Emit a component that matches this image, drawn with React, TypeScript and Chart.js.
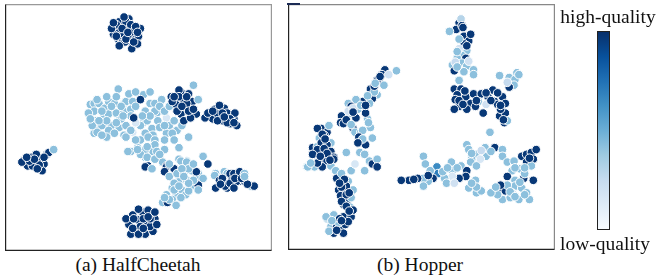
import React, { useEffect, useRef } from "react";
import { Chart, registerables } from "chart.js";

Chart.register(...registerables);

type P = [number, number, number]; // [tsne-x, tsne-y, quality 0..1]

const D = 0.97; // dark / high quality
const L = 0.42; // light blue
const V = 0.16; // very light

// ---------------- HalfCheetah ----------------
const hcTopCluster: P[] = [
  [108, 225, D], [113, 222, D], [117, 228, D], [113, 233, D], [123, 225, D], [128, 222, D],
  [122, 217, D], [130, 215, D], [127, 208, D], [112, 215, D], [133, 218, D], [107, 220, D],
  [118, 220, D], [115, 210, D], [123, 236, D], [135, 226, D], [110, 230, D], [120, 233, D],
  [126, 205, D], [119, 212, D], [105, 226, D], [132, 210, D], [110, 218, D], [116, 226, D],
  [125, 230, D], [130, 228, D], [120, 215, D], [128, 212, D], [113, 208, D], [122, 222, D],
  [132, 222, D], [107, 232, D], [118, 238, D],
];
const hcBigLight: P[] = [
  [112, 163, L], [83, 147, L], [87, 148, L], [92, 148, L], [98, 143, L], [102, 150, L],
  [108, 148, L], [118, 148, L], [120, 150, L], [127, 150, L], [138, 157, L], [145, 148, L],
  [150, 148, L], [157, 152, L], [87, 140, L], [97, 137, L], [102, 137, L], [110, 138, L],
  [118, 140, L], [125, 142, L], [88, 130, L], [92, 123, L], [98, 127, L], [105, 125, L],
  [113, 123, L], [120, 125, L], [118, 115, L], [102, 120, L], [87, 117, L], [108, 117, L],
  [127, 118, V], [137, 127, L], [142, 130, L], [152, 138, L], [153, 130, L], [162, 133, V],
  [147, 122, L], [155, 123, L], [165, 125, L], [162, 117, L], [148, 115, L], [140, 117, L],
  [135, 110, L], [173, 120, L], [185, 113, L], [132, 102, L], [143, 102, L], [125, 98, L],
  [140, 92, L], [148, 98, L], [155, 93, L], [158, 87, L], [175, 90, L], [183, 88, L],
  [150, 140, L], [95, 125, L], [90, 118, L], [120, 113, L], [143, 113, L], [168, 117, L],
  [112, 130, L], [130, 145, L], [140, 140, L], [81, 138, L], [123, 158, L], [155, 145, L],
  [135, 125, L], [115, 132, L], [100, 113, L], [95, 140, L], [105, 145, L], [115, 145, L],
  [125, 135, L], [100, 130, L], [110, 128, L], [130, 128, V], [145, 135, L], [160, 140, L],
  [150, 110, L], [160, 110, L], [170, 110, L], [130, 110, L], [125, 120, L], [140, 100, L],
  [135, 95, L], [160, 100, L], [150, 105, L], [110, 155, L], [100, 155, L], [90, 152, L],
  [130, 160, L], [145, 160, L], [165, 145, L], [170, 130, L], [178, 125, L], [85, 125, L],
  [95, 115, L], [160, 125, L], [83, 132, L], [92, 130, L], [117, 135, L], [137, 135, L],
  [135, 152, D], [128, 133, D], [143, 83, D], [162, 83, D],
];
const hcRightUpper: P[] = [
  [167, 155, D], [177, 160, D], [185, 158, D], [180, 152, D], [172, 147, D], [183, 143, D],
  [177, 137, D], [193, 137, D], [180, 130, D], [187, 133, D], [173, 140, D], [168, 150, D],
  [189, 150, D], [175, 162, D], [175, 155, D], [183, 148, D], [178, 145, D], [185, 140, D],
  [170, 155, D], [183, 155, D], [190, 142, D], [190, 167, L], [195, 152, L],
];
const hcRight: P[] = [
  [212, 142, D], [222, 143, D], [228, 137, D], [210, 132, D], [220, 130, D], [232, 132, D],
  [202, 133, D], [235, 125, D], [225, 138, D], [215, 137, D], [233, 138, D], [228, 127, D],
  [217, 146, D], [205, 138, D], [215, 130, D], [220, 138, D], [228, 132, D], [210, 140, D],
  [225, 128, D], [232, 128, D], [222, 134, D],
];
const hcLeft: P[] = [
  [15, 90, D], [22, 92, D], [27, 88, D], [32, 90, D], [38, 95, D], [35, 85, D],
  [18, 83, D], [12, 87, D], [33, 78, D], [23, 83, D], [40, 97, D], [27, 95, D],
  [20, 88, D], [30, 84, D], [25, 90, D], [35, 92, D], [17, 92, D], [28, 80, D],
  [45, 100, L],
];
const hcLowerMid: P[] = [
  [122, 98, L], [132, 100, L], [142, 103, L], [152, 98, L], [142, 92, L], [150, 90, L],
  [140, 82, D], [147, 80, L], [162, 82, D], [170, 80, D], [160, 77, D], [165, 85, L],
  [177, 88, L], [183, 87, L], [188, 78, L], [195, 75, L], [200, 93, L], [205, 85, D],
  [165, 72, L], [175, 67, L], [183, 68, L], [192, 70, L], [200, 70, L], [168, 60, L],
  [178, 58, L], [188, 62, L], [195, 63, D], [162, 53, L], [172, 52, L], [182, 53, L],
  [158, 45, L], [168, 48, L], [177, 50, L], [163, 45, D], [193, 77, D], [175, 102, L],
  [173, 75, L], [180, 75, L], [185, 57, L], [170, 65, L], [190, 68, L], [185, 80, L],
  [190, 85, L], [178, 80, L], [170, 58, L], [175, 62, L], [185, 65, L], [195, 58, L],
  [165, 48, L], [172, 42, L], [160, 50, L], [180, 72, L], [155, 95, L],
];
const hcRightLower: P[] = [
  [213, 75, L], [222, 77, L], [225, 75, L], [228, 75, D], [232, 75, D], [238, 77, D],
  [243, 75, L], [230, 68, D], [237, 67, D], [243, 67, D], [250, 62, L], [253, 62, D],
  [225, 60, D], [213, 60, D], [223, 62, D], [235, 67, D], [212, 73, L], [217, 68, D],
  [220, 70, D], [228, 65, D], [233, 70, D], [240, 70, D], [246, 64, D], [232, 60, D],
  [218, 64, D], [243, 72, L],
];
const hcBottom: P[] = [
  [127, 32, D], [137, 35, D], [147, 32, D], [132, 27, D], [142, 22, D], [150, 28, D],
  [123, 22, D], [130, 17, D], [140, 12, D], [148, 15, D], [135, 20, D], [143, 37, D],
  [145, 20, D], [133, 38, D], [152, 22, D], [125, 12, D], [120, 28, D], [128, 28, D],
  [138, 28, D], [145, 28, D], [133, 12, D], [143, 30, D], [138, 18, D], [127, 18, D],
  [150, 35, D],
];

// ---------------- Hopper ----------------
const hpLeftStrand: P[] = [
  [95, 182, D], [107, 181, L], [92, 177, D], [89, 172, D], [94, 166, L], [87, 171, D],
  [80, 162, D], [87, 156, L], [82, 152, D], [72, 149, D], [79, 147, L], [65, 151, L],
  [57, 147, L], [60, 144, D], [67, 141, L], [59, 137, L], [50, 134, D], [65, 132, D],
  [77, 131, L], [49, 127, D], [54, 127, L], [62, 121, D], [80, 122, L], [64, 117, L],
  [70, 117, L], [82, 111, L], [69, 107, D], [75, 104, D], [52, 126, D], [72, 119, L],
  [57, 139, 0.2], [62, 142, 0.2], [75, 137, D], [84, 159, L], [99, 177, 0.2],
  [90, 175, D], [84, 165, D], [77, 155, L], [70, 145, L], [62, 138, D], [55, 130, D],
  [60, 125, L], [68, 112, D], [72, 110, L], [78, 127, L], [85, 168, L], [75, 145, D],
];
const hpLeftCluster: P[] = [
  [29, 121, D], [35, 117, D], [25, 121, D], [27, 111, L], [34, 107, D], [39, 106, L],
  [20, 101, D], [25, 102, L], [29, 106, D], [35, 104, D], [39, 97, D], [29, 94, L],
  [22, 94, L], [42, 91, D], [27, 87, D], [35, 87, D], [14, 81, L], [22, 81, L],
  [30, 81, D], [39, 82, L], [44, 77, L], [25, 99, D], [42, 89, D], [15, 81, L],
  [32, 114, D], [20, 94, D], [37, 124, L], [30, 115, D], [32, 100, D], [25, 85, D],
  [18, 85, L], [35, 95, D], [28, 92, D], [38, 88, D], [33, 110, D],
];
const hpLeftLower: P[] = [
  [55, 96, L], [69, 96, L], [67, 106, D], [74, 94, L], [79, 87, L], [82, 84, D],
  [87, 89, L], [74, 77, L], [60, 77, L], [64, 84, V], [87, 81, D], [45, 69, D],
  [52, 64, D], [57, 66, L], [47, 57, D], [54, 57, D], [62, 57, L], [49, 51, D],
  [57, 47, D], [60, 49, L], [52, 42, D], [59, 39, L], [57, 32, D], [52, 29, D],
  [60, 29, D], [35, 27, L], [42, 31, L], [39, 19, L], [45, 19, D], [50, 17, D],
  [42, 12, D], [52, 12, D], [37, 14, L], [54, 21, D], [34, 29, L], [50, 74, L],
  [55, 61, D], [62, 36, D], [47, 23, L], [57, 24, D], [50, 60, D], [55, 52, D],
  [50, 45, D], [55, 40, D], [58, 35, D], [48, 27, D], [40, 25, L], [45, 15, D],
  [50, 25, D], [53, 68, D], [48, 64, D], [58, 54, D],
];
const hpRightUpper: P[] = [
  [172, 231, D], [169, 224, D], [162, 222, L], [177, 217, D], [182, 212, D], [177, 209, D],
  [180, 202, L], [175, 197, L], [179, 194, D], [170, 194, L], [165, 187, L], [175, 189, L],
  [180, 186, L], [167, 181, D], [187, 182, L], [187, 177, L], [172, 171, L], [174, 235, 0.3],
  [184, 219, D], [172, 204, 0.2], [182, 191, 0.2], [170, 201, L], [175, 228, D],
  [172, 214, L], [180, 207, D], [168, 190, 0.25], [177, 180, L], [170, 185, L], [176, 226, D],
];
const hpRightMiddle: P[] = [
  [167, 162, D], [174, 162, D], [170, 156, D], [179, 154, D], [187, 157, D], [195, 157, D],
  [192, 149, L], [184, 147, D], [172, 144, D], [167, 141, D], [180, 141, D], [189, 144, D],
  [197, 137, D], [202, 154, D], [207, 161, D], [209, 149, D], [217, 154, D], [212, 146, D],
  [220, 147, D], [217, 137, L], [214, 134, D], [220, 137, D], [219, 127, D], [222, 129, L],
  [214, 176, L], [224, 174, L], [230, 172, L], [232, 179, L], [229, 166, L], [224, 164, D],
  [204, 117, L], [168, 151, D], [200, 146, 0.2], [215, 141, D], [234, 177, L], [222, 169, 0.25],
  [172, 150, D], [178, 160, D], [190, 150, D], [205, 150, D], [215, 145, D], [218, 130, D],
  [176, 146, D], [200, 158, D], [212, 158, D],
];
const hpLowerRight: P[] = [
  [180, 104, L], [182, 99, L], [199, 101, L], [209, 101, D], [217, 99, L], [190, 94, L],
  [200, 92, L], [194, 89, V], [185, 89, L], [184, 86, L], [190, 82, L], [135, 92, L],
  [137, 84, L], [149, 81, 0.65], [164, 86, L], [174, 82, L], [180, 77, D], [179, 71, D],
  [172, 69, D], [165, 77, L], [165, 71, V], [157, 69, L], [150, 74, 0.7], [155, 76, L],
  [145, 69, D], [140, 66, L], [135, 69, L], [129, 69, D], [120, 67, D], [112, 67, D],
  [135, 61, L], [189, 67, L], [182, 59, L], [190, 54, L], [195, 56, L], [217, 92, L],
  [222, 86, L], [229, 87, L], [237, 92, D], [242, 94, D], [247, 96, D], [252, 99, D],
  [249, 89, D], [242, 86, D], [247, 82, L], [235, 79, L], [227, 77, L], [222, 71, D],
  [230, 67, L], [239, 69, D], [249, 67, D], [214, 57, D], [220, 56, D], [230, 61, L],
  [237, 59, L], [217, 47, L], [225, 49, L], [234, 47, L], [245, 47, L], [242, 54, L],
  [222, 62, L], [212, 52, L], [205, 54, L], [142, 77, L], [159, 64, L], [167, 64, 0.2],
  [227, 54, 0.25], [240, 74, L], [185, 95, L], [195, 98, 0.25], [205, 97, L], [160, 80, L],
  [170, 80, L], [140, 72, D], [125, 68, D], [230, 80, L], [240, 80, L], [245, 90, D],
  [235, 65, L], [225, 55, L], [230, 50, L], [240, 52, L], [215, 62, D], [210, 60, L],
  [190, 60, L], [185, 64, L],
];

const halfCheetahPoints: P[] = [
  ...hcBigLight, ...hcLowerMid, ...hcTopCluster, ...hcRightUpper, ...hcRight,
  ...hcLeft, ...hcRightLower, ...hcBottom,
];
const hopperPoints: P[] = [
  ...hpLeftStrand, ...hpLeftCluster, ...hpLeftLower, ...hpRightUpper, ...hpRightMiddle,
  ...hpLowerRight,
];

const panelTitles = ["(a) HalfCheetah", "(b) Hopper"];
const colorbarLabels = ["high-quality", "low-quality"];

const BLUES = [
  "#f7fbff", "#deebf7", "#c6dbef", "#9ecae1", "#6baed6",
  "#4292c6", "#2171b5", "#08519c", "#08306b",
];

function hexToRgb(h: string) {
  const n = parseInt(h.slice(1), 16);
  return [(n >> 16) & 255, (n >> 8) & 255, n & 255];
}
function blues(q: number) {
  const t = Math.max(0, Math.min(1, q)) * (BLUES.length - 1);
  const i = Math.min(BLUES.length - 2, Math.floor(t));
  const f = t - i;
  const a = hexToRgb(BLUES[i]);
  const b = hexToRgb(BLUES[i + 1]);
  const c = a.map((v, k) => Math.round(v + (b[k] - v) * f));
  return `rgb(${c[0]},${c[1]},${c[2]})`;
}

const FONT = "'Liberation Serif', 'Times New Roman', serif";

function Panel(props: {
  points: P[];
  left: number;
  top: number;
  width: number;
  height: number;
  xMax: number;
  yMax: number;
  borderDark: string;
  borderLight: string;
}) {
  const ref = useRef<HTMLCanvasElement | null>(null);
  useEffect(() => {
    if (!ref.current) return;
    const { points } = props;
    const borderPlugin = {
      id: "box",
      afterDraw(chart: any) {
        const ctx = chart.ctx as CanvasRenderingContext2D;
        const w = chart.width;
        const h = chart.height;
        ctx.save();
        ctx.lineWidth = 1.2;
        ctx.strokeStyle = props.borderLight;
        ctx.beginPath();
        ctx.moveTo(0.5, 0.6);
        ctx.lineTo(w - 0.6, 0.6);
        ctx.lineTo(w - 0.6, h - 0.5);
        ctx.stroke();
        ctx.strokeStyle = props.borderDark;
        ctx.beginPath();
        ctx.moveTo(0.6, 0.5);
        ctx.lineTo(0.6, h - 0.6);
        ctx.lineTo(w - 0.5, h - 0.6);
        ctx.stroke();
        ctx.restore();
      },
    };
    const chart = new Chart(ref.current, {
      type: "scatter",
      data: {
        datasets: [
          {
            data: points.map((p) => ({ x: p[0], y: p[1] })),
            pointBackgroundColor: points.map((p) => blues(p[2])),
            pointBorderColor: "#ffffff",
            pointBorderWidth: 1,
            pointRadius: 4.3,
          },
        ],
      },
      options: {
        animation: false,
        responsive: false,
        maintainAspectRatio: false,
        layout: { padding: 0 },
        plugins: { legend: { display: false }, tooltip: { enabled: false } },
        scales: {
          x: { type: "linear", display: false, min: 0, max: props.xMax },
          y: { type: "linear", display: false, min: 0, max: props.yMax },
        },
      },
      plugins: [borderPlugin],
    });
    return () => chart.destroy();
  }, []);
  return (
    <canvas
      ref={ref}
      width={props.width}
      height={props.height}
      style={{
        position: "absolute",
        left: props.left,
        top: props.top,
        width: props.width,
        height: props.height,
      }}
    />
  );
}

export default function App() {
  const textStyle: React.CSSProperties = {
    position: "absolute",
    fontFamily: FONT,
    fontSize: 19.5,
    lineHeight: "20px",
    color: "#111",
    whiteSpace: "nowrap",
    textAlign: "center",
  };
  return (
    <div
      style={{
        position: "fixed",
        left: 0,
        top: 0,
        width: 661,
        height: 276,
        background: "#fff",
        overflow: "hidden",
      }}
    >
      <Panel
        points={halfCheetahPoints}
        left={5}
        top={4}
        width={267}
        height={247}
        xMax={266}
        yMax={246}
        borderDark="#222"
        borderLight="#999"
      />
      <Panel
        points={hopperPoints}
        left={288}
        top={4}
        width={267}
        height={246}
        xMax={266}
        yMax={245}
        borderDark="#222"
        borderLight="#888"
      />
      <div
        style={{
          position: "absolute",
          left: 287,
          top: 3,
          width: 13,
          height: 2,
          background: "#1c2b55",
        }}
      />
      <div style={{ ...textStyle, left: 38, width: 200, top: 255 }}>{panelTitles[0]}</div>
      <div style={{ ...textStyle, left: 320, width: 200, top: 255 }}>{panelTitles[1]}</div>
      <div style={{ ...textStyle, left: 548, width: 120, top: 7 }}>{colorbarLabels[0]}</div>
      <div style={{ ...textStyle, left: 545, width: 120, top: 234 }}>{colorbarLabels[1]}</div>
      <div
        style={{
          position: "absolute",
          left: 597,
          top: 31,
          width: 11,
          height: 197,
          border: "1px solid #222",
          background: `linear-gradient(to bottom, ${BLUES.slice().reverse().join(", ")})`,
        }}
      />
    </div>
  );
}
